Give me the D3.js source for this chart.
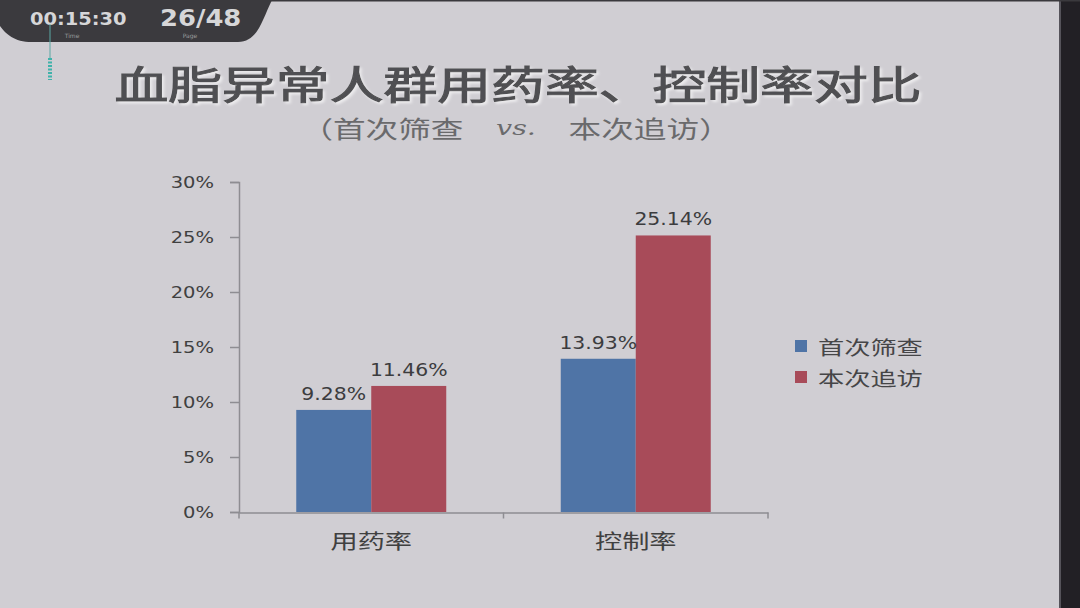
<!DOCTYPE html>
<html>
<head>
<meta charset="utf-8">
<script src="https://cdn.jsdelivr.net/npm/d3@7"></script>
<style>
html,body{margin:0;padding:0;background:#d0ced3;overflow:hidden;}
svg{display:block;}
</style>
</head>
<body>
<svg id="chart" width="1080" height="608"></svg>
<script>
// ---- data ----
const categories = ["用药率", "控制率"];
const seriesNames = ["首次筛查", "本次追访"];
const firstScreening = [9.28, 13.93];
const followUp = [11.46, 25.14];
const yTicks = [0, 5, 10, 15, 20, 25, 30];
const titleText = "血脂异常人群用药率、控制率对比";
const subtitleParts = ["（首次筛查\u3000", "vs.", "\u3000本次追访）"];
const timerText = "00:15:30";
const pageText = "26/48";

const colors = ["#4f74a6", "#a84b59"];
const cjk = "'Noto Sans CJK SC','Noto Sans',sans-serif";
const latin = "'DejaVu Sans',Verdana,sans-serif";
const sxCJK = 1.36, sxLat = 1.22;

const svg = d3.select("#chart");

const defs = svg.append("defs");
const f = defs.append("filter").attr("id","shadow").attr("x","-5%").attr("y","-20%").attr("width","110%").attr("height","150%");
f.append("feDropShadow").attr("dx",1.5).attr("dy",2).attr("stdDeviation",1.2).attr("flood-color","#ffffff").attr("flood-opacity",0.6);

// background
svg.append("rect").attr("width",1080).attr("height",608).attr("fill","#d0ced3");
// right dark strip
svg.append("rect").attr("x",1059).attr("y",0).attr("width",21).attr("height",608).attr("fill","#222025");
svg.append("rect").attr("x",1059).attr("y",0).attr("width",2).attr("height",608).attr("fill","#55535a");
svg.append("rect").attr("x",0).attr("y",0).attr("width",1080).attr("height",1.5).attr("fill","#3a393d");

// helper for stretched text
function stretchedText(g, x, y, txt, sx, opts){
  const t = g.append("text")
    .attr("transform", `translate(${x},${y}) scale(${sx},1)`)
    .attr("text-anchor", opts.anchor || "middle")
    .attr("font-family", opts.family)
    .attr("font-size", opts.size)
    .attr("font-weight", opts.weight || "normal")
    .attr("fill", opts.fill || "#404040")
    .attr("dominant-baseline", opts.baseline || "auto")
    .text(txt);
  if (opts.spacing) t.attr("letter-spacing", opts.spacing);
  return t;
}

// title
stretchedText(svg, 518, 82, titleText, 1.38, {family:cjk, size:39, weight:"normal", fill:"#505052", baseline:"central"})
  .attr("stroke","#505052").attr("stroke-width",1.1).attr("filter","url(#shadow)");

// subtitle
const st = svg.append("text")
  .attr("transform","translate(516,127) scale(1.36,1)")
  .attr("text-anchor","middle").attr("dominant-baseline","central")
  .attr("font-family",cjk).attr("font-size",24).attr("fill","#6a6a6c");
st.append("tspan").text(subtitleParts[0]);
st.append("tspan").attr("font-family","'DejaVu Serif','Liberation Serif',serif").attr("font-style","italic").attr("font-size",21).text(subtitleParts[1]);
st.append("tspan").text(subtitleParts[2]);

// scales
const x0 = d3.scaleBand().domain(categories).range([239, 768]).paddingInner(0).paddingOuter(0);
const bw = x0.bandwidth();
const x1 = d3.scaleBand().domain(seriesNames).range([bw/2 - 75, bw/2 + 75]).padding(0);
const y = d3.scaleLinear().domain([0, 30]).range([512, 182]);

const axisColor = "#8e8d92";

// y axis
const yAxis = svg.append("g").attr("transform","translate(239,0)")
  .call(d3.axisLeft(y).tickValues(yTicks).tickSize(9).tickPadding(16).tickFormat(d => d + "%"));
yAxis.select(".domain").attr("stroke",axisColor).attr("stroke-width",1.5);
yAxis.selectAll(".tick line").attr("stroke",axisColor).attr("stroke-width",1.5);
yAxis.selectAll(".tick text").each(function(){
  const t = d3.select(this);
  const xx = +t.attr("x");
  t.attr("x",null).attr("transform",`translate(${xx},0) scale(${sxLat},1)`)
   .attr("font-family",latin).attr("font-size",16).attr("fill","#404040");
});

// bars
const rows = categories.map((c,i)=>({cat:c, vals:[firstScreening[i], followUp[i]]}));
const groups = svg.selectAll("g.grp").data(rows).join("g").attr("class","grp")
  .attr("transform", d => `translate(${x0(d.cat)},0)`);
groups.selectAll("rect").data(d => d.vals.map((v,j)=>({name:seriesNames[j], v, j})))
  .join("rect")
  .attr("x", d => x1(d.name)).attr("width", x1.bandwidth())
  .attr("y", d => y(d.v)).attr("height", d => y(0) - y(d.v))
  .attr("fill", d => colors[d.j]);
groups.each(function(){
  const g = d3.select(this);
  g.selectAll("rect").data().forEach(d => {
    stretchedText(g, x1(d.name) + x1.bandwidth()/2, y(d.v) - 10, d.v.toFixed(2) + "%", 1.2,
      {family:latin, size:17, fill:"#3c3c3e"});
  });
});

// x axis
const xAxis = svg.append("g").attr("transform","translate(0,512.5)")
  .call(d3.axisBottom(x0).tickSize(0).tickPadding(27));
xAxis.select(".domain").attr("stroke",axisColor).attr("stroke-width",1.5);
xAxis.selectAll(".tick text").each(function(d){
  const t = d3.select(this);
  t.attr("y",null).attr("dy",null)
   .attr("transform",`translate(0,28) scale(${sxCJK},1)`)
   .attr("dominant-baseline","central")
   .attr("font-family",cjk).attr("font-size",20).attr("fill","#404040");
});
const bounds = [x0.range()[0]].concat(categories.map(c => x0(c) + bw));
xAxis.selectAll("line.bound").data(bounds).join("line").attr("class","bound")
  .attr("x1", d => d).attr("x2", d => d).attr("y1", 0).attr("y2", 6)
  .attr("stroke", axisColor).attr("stroke-width",1.5);

// legend
const lg = svg.append("g").attr("transform","translate(795,346)");
seriesNames.forEach((s,i)=>{
  const row = lg.append("g").attr("transform",`translate(0,${i*31})`);
  row.append("rect").attr("x",0).attr("y",-6).attr("width",12).attr("height",12).attr("fill",colors[i]);
  stretchedText(row, 23, 1, s, 1.38, {family:cjk, size:19, anchor:"start", baseline:"central", fill:"#454547"});
});

// presentation overlay (timer tab)
const ov = svg.append("g");
ov.append("path")
  .attr("d","M0,0 L272,0 C262,20 258,42 238,42 L32,42 C14,42 6,34 0,26 Z")
  .attr("fill","#3b3a3e");
stretchedText(ov, 30, 25, timerText, 1.08, {family:latin, size:18, weight:"bold", anchor:"start", fill:"#d6d6d8"});
stretchedText(ov, 160, 26, pageText, 1.1, {family:latin, size:23.5, weight:"bold", anchor:"start", fill:"#d6d6d8"});
ov.append("text").attr("x",72).attr("y",38).attr("text-anchor","middle").attr("font-family",latin)
  .attr("font-size",6).attr("fill","#9a9a9c").text("Time");
ov.append("text").attr("x",190).attr("y",38).attr("text-anchor","middle").attr("font-family",latin)
  .attr("font-size",6).attr("fill","#9a9a9c").text("Page");
ov.append("line").attr("x1",50).attr("x2",50).attr("y1",24).attr("y2",60)
  .attr("stroke","#5aa8a4").attr("stroke-width",1);
ov.append("line").attr("x1",50).attr("x2",50).attr("y1",58).attr("y2",80)
  .attr("stroke","#3fb2aa").attr("stroke-width",4).attr("stroke-dasharray","2,1.5");
</script>
</body>
</html>
